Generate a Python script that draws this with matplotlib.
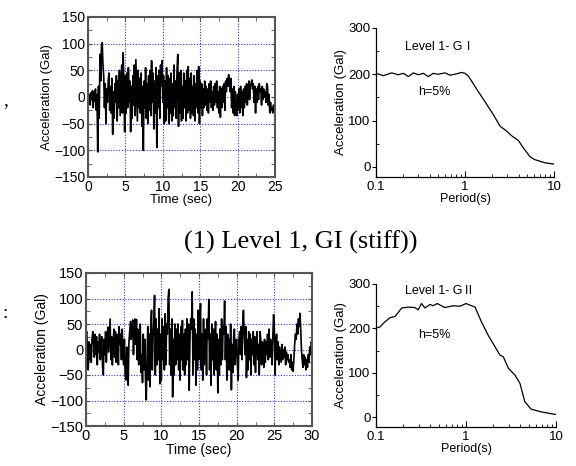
import numpy as np
import matplotlib
matplotlib.use('Agg')
import matplotlib.pyplot as plt
from matplotlib.ticker import MultipleLocator, FixedLocator, NullFormatter

plt.rcParams['font.family'] = ['Liberation Sans', 'Noto Sans CJK JP', 'DejaVu Sans']
plt.rcParams['axes.unicode_minus'] = True

# 時刻歴 Level 1 GI (dt = 0.1 s, 0-25 s)
acc_g1 = [
    0, -10, 5, -15, 8, -5, 12, -20, 10, -8,
    15, -25, 5, -103, 20, -40, 80, 30, 95, 102,
    60, 40, -20, 25, -50, 15, -10, 30, 45, -25,
    20, -30, 35, -70, 10, -40, 25, -10, 40, -45,
    30, -20, 50, -35, 10, 60, -30, 83, 20, -65,
    40, -30, 45, -20, 55, -10, 30, -65, 20, -40,
    40, -15, 60, -35, 70, 10, -45, 50, -20, 35,
    -30, 45, -55, 20, -100, 30, -20, 55, -40, 25,
    -50, 40, -25, 50, -35, 68, -10, 45, -60, 30,
    -30, 55, -95, 40, -20, 50, -40, 60, 20, 68,
    -10, 40, -50, 30, -45, 55, -20, 40, -50, 35,
    -30, 45, -45, 25, -35, 60, -20, 30, -40, 50,
    80, -55, 45, -30, 50, -45, 20, -40, 45, -20,
    30, -45, 50, -30, 57, -25, 35, -40, 45, -30,
    20, -35, 40, -45, 25, -20, 50, -30, 57, -50,
    30, -20, 25, -35, 15, -20, 30, -15, 20, -25,
    15, -30, 25, -10, 30, -20, 10, -25, 20, -15,
    25, -10, 30, -20, 10, -30, 20, -38, 15, -20,
    20, -10, 25, -25, 30, 10, 35, 20, 42, 30,
    10, 35, -20, 15, -30, 20, -35, 10, -30, -35,
    5, -25, 15, -30, 20, -20, 10, -35, 15, -20,
    20, -10, 25, -15, 10, 30, -5, 20, 25, 32,
    15, 25, -10, 20, -30, 15, -10, 20, -5, 25,
    10, 15, -15, 20, -5, 15, 0, 10, -10, 25,
    20, -15, 5, -30, -10, -25, -20, -30, -15, -25, -20,
]

# 時刻歴 Level 1 GII (dt = 0.1 s, 0-30 s)
acc_g2 = [
    30, 35, -10, -40, 15, -20, 10, -25, 20, 35,
    15, -15, 30, -10, 25, -30, 15, -5, 30, -20,
    10, 25, -35, -50, 20, -10, 35, -25, 15, 44,
    -5, 30, 60, -20, 25, -30, 10, 40, -15, 35,
    -25, 30, 20, -30, 45, 10, 30, -20, 40, -5,
    -30, 20, -50, -60, 5, -40, -70, 15, 35, 55,
    20, 45, 58, -10, 35, 60, 10, 59, -20, 40,
    -30, 25, 50, -45, -10, -65, 30, -40, 20, -60,
    -99, -20, 45, -60, 30, -73, 50, 77, -40, 20,
    50, 106, -50, 60, -30, 40, -20, 80, -67, 30,
    -60, 60, -20, 45, -40, 70, -30, 50, 30, 100,
    118, -30, 40, -50, 60, -93, 20, -50, 50, -30,
    40, -20, 50, -40, 30, -60, 45, -20, 57, -40,
    30, -50, 40, -30, 60, -20, 50, -80, 20, 60,
    40, 113, -50, 60, -20, 40, -70, 30, -40, 77,
    -20, 50, 90, -40, 30, -60, 60, -30, 20, 40,
    -50, 60, 20, 98, -40, 30, -70, 50, -20, 40,
    -50, 20, 55, -40, 30, -85, 20, -50, 40, -30,
    60, -20, 45, 30, 95, -20, 45, -60, 30, -40,
    20, -40, 50, -79, 10, -45, 25, 40, -30, 15,
    20, -30, -60, 20, 35, -10, 45, -20, 50, 77,
    30, -10, 45, -55, 20, -40, 35, -20, 30, -50,
    20, -10, 35, -30, 25, -45, 15, 35, -20, 10,
    -50, 35, 20, -30, 15, 10, -35, 20, -25, 15,
    -10, 30, -20, 40, -15, 20, 10, -30, 25, 68,
    40, -50, 10, 30, -20, 15, -30, 5, -10, -25,
    10, -20, 0, -15, 5, -30, -5, -20, -10, -25,
    -20, -35, -10, -40, -25, -43, -15, 10, 30, 20,
    50, 30, 60, 45, 71, 40, 0, -20, -35, -10,
    -30, -15, -40, -20, -35, -10, -25, 5, -10, 15, 10,
]

# 加速度応答スペクトル (h=5%)
period_g1 = [0.10, 0.121, 0.15, 0.178, 0.203, 0.231, 0.263, 0.299, 0.34, 0.387,
             0.44, 0.50, 0.596, 0.679, 0.807, 0.916, 1.0, 1.09, 1.19, 1.35,
             1.61, 1.85, 2.08, 2.47, 2.94, 3.4, 3.98, 4.52, 5.37, 6.0,
             6.96, 8.0, 10.0]
sa_g1 = [202, 197, 203, 199, 202, 195, 203, 199, 202, 195,
         202, 200, 203, 198, 201, 204, 202, 196, 185, 168,
         146, 128, 113, 88, 77, 66, 57, 41, 22, 16,
         12, 8.5, 6]

period_g2 = [0.10, 0.11, 0.126, 0.143, 0.163, 0.193, 0.229, 0.27, 0.295, 0.32,
             0.35, 0.40, 0.43, 0.48, 0.58, 0.72, 0.86, 1.0, 1.26, 1.49,
             1.77, 2.0, 2.38, 2.6, 2.96, 3.5, 3.98, 4.5, 5.3, 6.9, 10.0]
sa_g2 = [201, 203, 215, 224, 227, 246, 248, 247, 242, 256,
         246, 254, 251, 256, 247, 251, 250, 256, 248, 214,
         184, 166, 140, 136, 110, 95, 76, 35, 18, 12, 6]

W, H = 576, 466
fig = plt.figure(figsize=(W / 100, H / 100), dpi=100)


def px_axes(l, t, r, b):
    return fig.add_axes([l / W, 1 - b / H, (r - l) / W, (b - t) / H])


def time_axes(ax, t, acc, tmax, fs):
    ax.plot(t, acc, color='black', lw=1.2)
    ax.set_xlim(0, tmax)
    ax.set_ylim(-150, 150)
    ax.set_xticks(np.arange(0, tmax + 1, 5))
    ax.xaxis.set_minor_locator(MultipleLocator(2.5))
    ax.set_yticks(np.arange(-150, 151, 50))
    ax.yaxis.set_minor_locator(MultipleLocator(25))
    ax.grid(True, which='major', color='#3030e0', ls=(0, (1, 1.5)), lw=0.8)
    ax.tick_params(which='both', direction='in', top=True, right=True,
                   labelsize=fs, pad=2, color='#555555', length=3)
    for s in ax.spines.values():
        s.set_color('#555555')
        s.set_linewidth(1.5)
    ax.set_ylabel('Acceleration (Gal)', fontsize=fs - 0.5, labelpad=1)
    ax.set_xlabel('Time (sec)', fontsize=fs - 0.5, labelpad=0)


def spec_axes(ax, period, sa, label, ytext):
    ax.plot(period, sa, color='black', lw=0.9)
    ax.set_xscale('log')
    ax.set_xlim(0.1, 10)
    ax.set_ylim(-22, 300)
    ax.set_xticks([0.1, 1, 10])
    ax.set_xticklabels(['0.1', '1', '10'])
    ax.xaxis.set_minor_formatter(NullFormatter())
    ax.yaxis.set_major_locator(FixedLocator([0, 100, 200, 300]))
    ax.yaxis.set_minor_locator(FixedLocator([50, 150, 250]))
    ax.spines['top'].set_visible(False)
    ax.spines['right'].set_visible(False)
    for s in ('left', 'bottom'):
        ax.spines[s].set_linewidth(0.9)
    ax.tick_params(axis='x', which='both', direction='in', labelsize=9.5, pad=3)
    ax.tick_params(axis='x', which='major', length=4)
    ax.tick_params(axis='x', which='minor', length=2.5)
    ax.tick_params(axis='y', which='major', direction='out', length=3, labelsize=9.5, pad=1)
    ax.tick_params(axis='y', which='minor', direction='in', length=2)
    ax.set_ylabel('Acceleration (Gal)', fontsize=9.5, labelpad=1)
    ax.set_xlabel('Period(s)', fontsize=9, labelpad=0)
    ax.text(0.21, ytext, label, fontsize=9, va='center',
            family=['Liberation Sans', 'Noto Sans CJK JP', 'DejaVu Sans'])
    ax.text(0.295, ytext - 98, 'h=5%', fontsize=9, va='center')


ax1 = px_axes(88, 17, 275, 177)
t1 = np.arange(len(acc_g1)) * 0.1
time_axes(ax1, t1, acc_g1, 25, 10)

ax2 = px_axes(376, 28, 554, 177)
spec_axes(ax2, period_g1, sa_g1, 'Level 1- G\u2160', 259)

ax3 = px_axes(86, 273, 312, 426)
t2 = np.arange(len(acc_g2)) * 0.1
time_axes(ax3, t2, acc_g2, 30, 10.5)

ax4 = px_axes(376, 284, 556, 427)
spec_axes(ax4, period_g2, sa_g2, 'Level 1- G\u2161', 284)

fig.text(301 / W, 1 - 242 / H, '(1) Level 1, GI (stiff))', fontsize=19,
         family='Liberation Serif', ha='center', va='center')
fig.text(3 / W, 1 - 101 / H, ',', fontsize=14, family='Liberation Serif', va='center')
fig.text(2 / W, 1 - 314 / H, ':', fontsize=14, family='Liberation Serif', va='center')

fig.savefig('out.png', dpi=100)
